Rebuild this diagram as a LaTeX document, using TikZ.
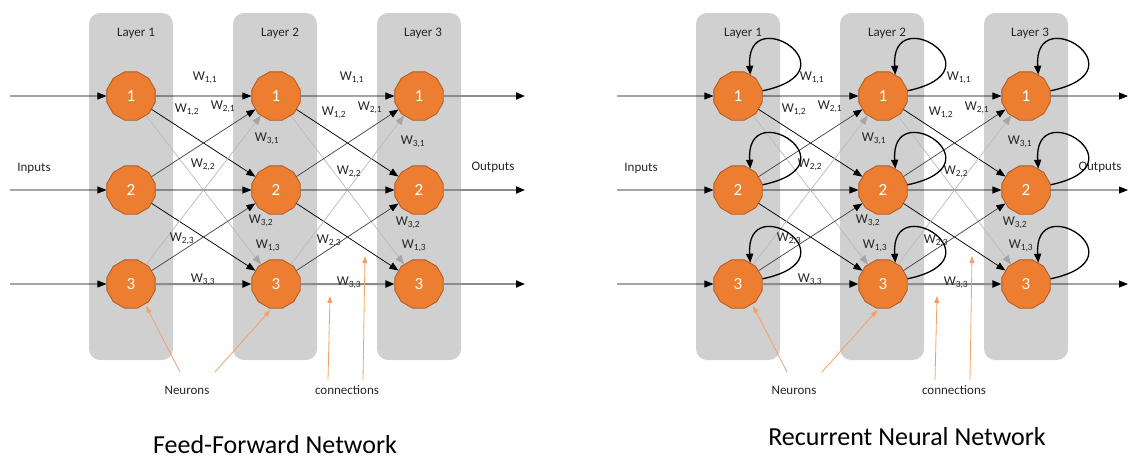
\documentclass[tikz,border=0pt]{standalone}
\usepackage{fontspec}
\setmainfont{Carlito}
\usetikzlibrary{shapes.geometric,arrows.meta}
\definecolor{boxgray}{RGB}{208,208,208}
\definecolor{neuronfill}{RGB}{237,125,49}
\definecolor{neurondraw}{RGB}{174,90,33}
\definecolor{annot}{RGB}{244,160,105}
\definecolor{lightedge}{RGB}{185,185,185}
\definecolor{lighthead}{RGB}{165,165,165}
\definecolor{midgray}{RGB}{140,140,140}
\definecolor{txt}{RGB}{38,38,38}
\tikzset{
  layerbox/.style={fill=boxgray, rounded corners=11pt},
  layertitle/.style={text=txt, font=\fontsize{13}{13}\selectfont, inner sep=0pt},
  neuron/.style={regular polygon, regular polygon sides=12, minimum size=50pt, inner sep=0pt,
    fill=neuronfill, draw=neurondraw, line width=0.8pt, text=white, font=\fontsize{17}{17}\selectfont},
  conn/.style={draw=black, line width=0.75pt, -{Triangle[length=9pt,width=7pt]}},
  darkconn/.style={draw=black!75, line width=0.7pt, -{Triangle[length=9pt,width=7pt,color=black]}},
  lightconn/.style={draw=lightedge, line width=0.7pt, -{Triangle[length=9pt,width=7pt,color=lighthead]}},
  thickconn/.style={draw=midgray, line width=2pt, -{Triangle[length=9pt,width=7pt,color=black]}},
  inarrow/.style={draw=black, line width=0.75pt, -{Triangle[length=9pt,width=7pt]}},
  outgray/.style={draw=midgray, line width=1.8pt, -{Triangle[length=9pt,width=7pt,color=black]}},
  loopconn/.style={draw=black, line width=1.3pt, -{Triangle[length=9pt,width=7pt]}},
  wlabel/.style={text=txt, font=\fontsize{13.5}{13.5}\selectfont, inner sep=0pt},
  plainlabel/.style={text=txt, font=\fontsize{13}{13}\selectfont, inner sep=0pt},
  titlelabel/.style={text=black, font=\fontsize{26}{27}\selectfont, inner sep=0pt, anchor=base},
  annotarrow/.style={draw=annot, line width=0.8pt, -{Triangle[length=7pt,width=5pt]}},
}
\newcommand{\W}[2]{W\textsubscript{#1,#2}}
\newcommand{\netcore}[1]{%
  \fill[layerbox] (89,13) rectangle (173,360);
  \fill[layerbox] (233,13) rectangle (317,360);
  \fill[layerbox] (377,13) rectangle (461,360);
  \node[layertitle] (#1t1) at (136,33) {Layer 1};
  \node[layertitle] (#1t2) at (280,33) {Layer 2};
  \node[layertitle] (#1t3) at (423,33) {Layer 3};
  \node[neuron] (#1a1) at (131,96) {1};
  \node[neuron] (#1a2) at (131,190) {2};
  \node[neuron] (#1a3) at (131,284) {3};
  \node[neuron] (#1b1) at (276,96) {1};
  \node[neuron] (#1b2) at (276,190) {2};
  \node[neuron] (#1b3) at (276,284) {3};
  \node[neuron] (#1c1) at (419,96) {1};
  \node[neuron] (#1c2) at (419,190) {2};
  \node[neuron] (#1c3) at (419,284) {3};
  \coordinate (#1in1) at (10,96);
  \coordinate (#1in2) at (10,190);
  \coordinate (#1in3) at (10,284);
  \draw[inarrow] (#1in1) -- (#1a1);
  \draw[inarrow] (#1in2) -- (#1a2);
  \draw[inarrow] (#1in3) -- (#1a3);
  % gap 1
  \draw[conn] (#1a1) -- (#1b1);
  \draw[conn] (#1a1) -- (#1b2);
  \draw[lightconn] (#1a1) -- (#1b3);
  \draw[darkconn] (#1a2) -- (#1b1);
  \draw[conn] (#1a2) -- (#1b2);
  \draw[conn] (#1a2) -- (#1b3);
  \draw[lightconn] (#1a3) -- (#1b1);
  \draw[darkconn] (#1a3) -- (#1b2);
  \draw[thickconn] (#1a3) -- (#1b3);
  % gap 2
  \draw[conn] (#1b1) -- (#1c1);
  \draw[conn] (#1b1) -- (#1c2);
  \draw[lightconn] (#1b1) -- (#1c3);
  \draw[darkconn] (#1b2) -- (#1c1);
  \draw[conn] (#1b2) -- (#1c2);
  \draw[conn] (#1b2) -- (#1c3);
  \draw[lightconn] (#1b3) -- (#1c1);
  \draw[darkconn] (#1b3) -- (#1c2);
  \draw[thickconn] (#1b3) -- (#1c3);
  % labels gap 1
  \node[wlabel] (#1w111) at (205,78) {\W{1}{1}};
  \node[wlabel] (#1w112) at (187,110) {\W{1}{2}};
  \node[wlabel] (#1w121) at (223,107) {\W{2}{1}};
  \node[wlabel] (#1w131) at (267,139) {\W{3}{1}};
  \node[wlabel] (#1w122) at (203,165) {\W{2}{2}};
  \node[wlabel] (#1w132) at (261,221) {\W{3}{2}};
  \node[wlabel] (#1w123) at (182,239) {\W{2}{3}};
  \node[wlabel] (#1w113) at (268,246) {\W{1}{3}};
  \node[wlabel] (#1w133) at (203,280) {\W{3}{3}};
  % labels gap 2
  \node[wlabel] (#1w211) at (352,78) {\W{1}{1}};
  \node[wlabel] (#1w212) at (334,113) {\W{1}{2}};
  \node[wlabel] (#1w221) at (370,108) {\W{2}{1}};
  \node[wlabel] (#1w231) at (413,142) {\W{3}{1}};
  \node[wlabel] (#1w222) at (349,172) {\W{2}{2}};
  \node[wlabel] (#1w232) at (408,223) {\W{3}{2}};
  \node[wlabel] (#1w223) at (329,241) {\W{2}{3}};
  \node[wlabel] (#1w213) at (414,246) {\W{1}{3}};
  \node[wlabel] (#1w233) at (349,283) {\W{3}{3}};
  % side texts
  \node[plainlabel] (#1inputs) at (34,168) {Inputs};
  \node[plainlabel] (#1outputs) at (493,167) {Outputs};
  % annotations
  \node[plainlabel] (#1neurons) at (187,390) {Neurons};
  \node[plainlabel] (#1connections) at (347,390) {connections};
  \coordinate (#1nt1) at (180,372);
  \coordinate (#1nt2) at (215,372);
  \draw[annotarrow, shorten >=2pt] (#1nt1) -- (#1a3.-55);
  \draw[annotarrow, shorten >=2pt] (#1nt2) -- (#1b3.-100);
  \coordinate (#1ct1) at (328,380);
  \coordinate (#1ch1) at (330,296);
  \coordinate (#1ct2) at (363,380);
  \coordinate (#1ch2) at (365,256);
  \draw[annotarrow] (#1ct1) -- (#1ch1);
  \draw[annotarrow] (#1ct2) -- (#1ch2);
}
\newcommand{\selfloop}[1]{%
  \draw[loopconn] (#1.12) .. controls +(95,-20) and +(-5,-75) .. (#1.60);
}
\begin{document}
\begin{tikzpicture}[x=1pt,y=-1pt]
  \useasboundingbox (0,0) rectangle (1130,459);
  % Feed-forward network
  \netcore{L}
  \coordinate (Lout1) at (525,96);
  \coordinate (Lout2) at (525,190);
  \coordinate (Lout3) at (525,284);
  \draw[outgray] (Lc1) -- (Lout1);
  \draw[outgray] (Lc2) -- (Lout2);
  \draw[outgray] (Lc3) -- (Lout3);
  \node[titlelabel] (Ltitle) at (275,453) {Feed-Forward Network};
  % Recurrent network
  \begin{scope}[xshift=607pt]
    \netcore{R}
    \coordinate (Rout1) at (521,96);
    \coordinate (Rout2) at (521,190);
    \coordinate (Rout3) at (521,284);
    \draw[inarrow] (Rc1) -- (Rout1);
    \draw[inarrow] (Rc2) -- (Rout2);
    \draw[inarrow] (Rc3) -- (Rout3);
    \selfloop{Ra1}
    \selfloop{Ra2}
    \selfloop{Ra3}
    \selfloop{Rb1}
    \selfloop{Rb2}
    \selfloop{Rb3}
    \selfloop{Rc1}
    \selfloop{Rc2}
    \selfloop{Rc3}
    \node[titlelabel] (Rtitle) at (300,445) {Recurrent Neural Network};
  \end{scope}
\end{tikzpicture}
\end{document}
